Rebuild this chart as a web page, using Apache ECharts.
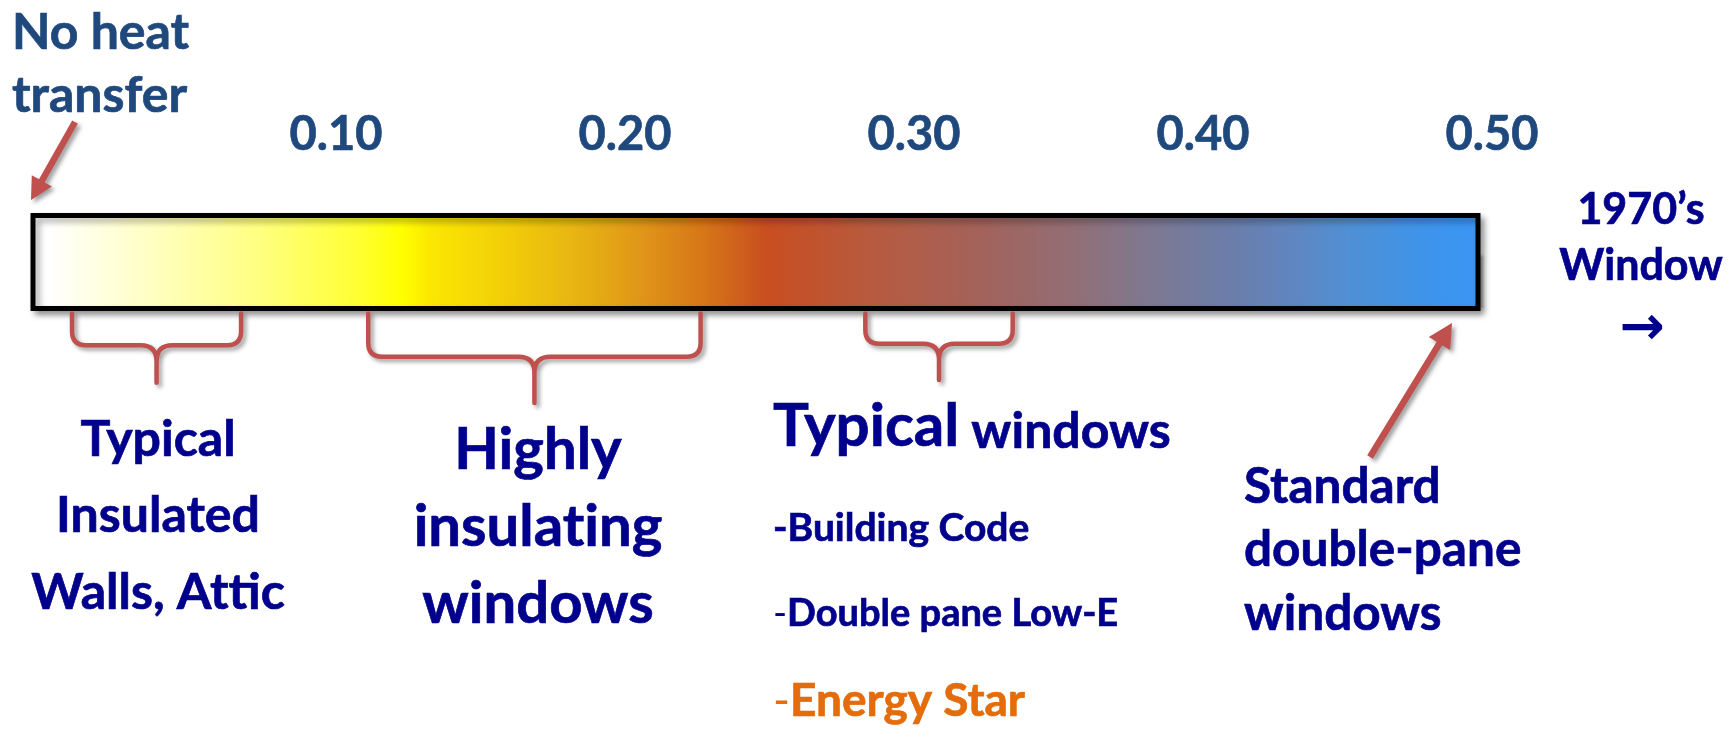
<!DOCTYPE html>
<html>
<head>
<meta charset="utf-8">
<title>U-factor scale</title>
<script src="https://cdn.jsdelivr.net/npm/echarts@6/dist/echarts.min.js"></script>
<style>
  html, body { margin: 0; padding: 0; background: #ffffff; }
  #chart { width: 1732px; height: 729px; }
</style>
</head>
<body>
<div id="chart"></div>
<script>
// U-factor scale, from no heat transfer up to a 1970's window
const scaleMin = 0;
const scaleMax = 0.5;
const tickValues = [0.1, 0.2, 0.3, 0.4, 0.5];
const tickLabels = ['0.10', '0.20', '0.30', '0.40', '0.50'];

// U-factor ranges marked with braces under the scale
const rangeNames = ['Typical Insulated Walls, Attic', 'Highly insulating windows', 'Typical windows'];
const rangeStart = [0.0135, 0.116, 0.288];
const rangeEnd = [0.072, 0.231, 0.339];

const FONT = 'Lato, "Open Sans", "DejaVu Sans", sans-serif';
const NAVY = '#00008C';
const STEEL = '#1F497D';
const RED = '#C0504D';
const ORANGE = '#E46C0A';
const SHADOW = { shadowColor: 'rgba(0,0,0,0.38)', shadowBlur: 4, shadowOffsetX: 3, shadowOffsetY: 3 };
// zero-width non-joiner keeps "t" and "i" as separate glyphs
const ZWNJ = '\u200C';

// colour ramp of the scale bar (white -> yellow -> orange-red -> blue)
const rampStops = [
  [0.000, '#FFFFFF'], [0.012, '#FFFFFF'], [0.067, '#FFFFD0'], [0.159, '#FFFF80'],
  [0.228, '#FFFF30'], [0.256, '#FFFF00'], [0.275, '#FBE802'], [0.330, '#F2CC08'],
  [0.370, '#E8B812'], [0.415, '#E19A18'], [0.462, '#D77818'], [0.508, '#C84E20'],
  [0.577, '#B85A3E'], [0.655, '#A3625A'], [0.725, '#907078'], [0.771, '#7E7890'],
  [0.817, '#6E7CA4'], [0.863, '#6284BC'], [0.909, '#5090D4'], [0.955, '#4094E8'],
  [1.000, '#3A96F5']
];

const chart = echarts.init(document.getElementById('chart'), null, { renderer: 'canvas' });

function barItem(params, api) {
  const p0 = api.coord([api.value(0), 1]);
  const p1 = api.coord([api.value(1), 0]);
  return {
    type: 'rect',
    shape: { x: p0[0], y: p0[1], width: p1[0] - p0[0], height: p1[1] - p0[1] },
    style: {
      fill: new echarts.graphic.LinearGradient(0, 0, 1, 0,
        rampStops.map(s => ({ offset: s[0], color: s[1] }))),
      stroke: '#000000',
      lineWidth: 5,
      shadowColor: 'rgba(0,0,0,0.35)', shadowBlur: 6, shadowOffsetX: 4, shadowOffsetY: 4
    }
  };
}

function braceItem(params, api) {
  const x1 = api.coord([api.value(0), 0])[0];
  const x2 = api.coord([api.value(1), 0])[0];
  const yBar = api.coord([0, 0])[1];
  const w = x2 - x1;
  const cx = (x1 + x2) / 2;
  const y0 = yBar + 5;
  const yh = yBar + 25 + 0.07 * w;
  const tip = yh + 28 + 0.055 * w;
  const r = 14, d = 16;
  const path =
    'M' + x1 + ' ' + y0 + ' L' + x1 + ' ' + (yh - r) +
    ' Q' + x1 + ' ' + yh + ' ' + (x1 + r) + ' ' + yh +
    ' L' + (cx - d) + ' ' + yh +
    ' Q' + cx + ' ' + yh + ' ' + cx + ' ' + (yh + d) +
    ' L' + cx + ' ' + tip +
    ' M' + x2 + ' ' + y0 + ' L' + x2 + ' ' + (yh - r) +
    ' Q' + x2 + ' ' + yh + ' ' + (x2 - r) + ' ' + yh +
    ' L' + (cx + d) + ' ' + yh +
    ' Q' + cx + ' ' + yh + ' ' + cx + ' ' + (yh + d);
  return {
    type: 'path',
    shape: { pathData: path },
    style: Object.assign({ fill: 'none', stroke: RED, lineWidth: 4.5, lineCap: 'round', lineJoin: 'round' }, SHADOW)
  };
}

// arrow as a filled polygon from tail to tip
function arrow(tail, tip, shaftW, headL, headW) {
  const dx = tip[0] - tail[0], dy = tip[1] - tail[1];
  const len = Math.sqrt(dx * dx + dy * dy);
  const ux = dx / len, uy = dy / len;
  const nx = -uy, ny = ux;
  const bx = tip[0] - ux * headL, by = tip[1] - uy * headL;
  const pts = [
    [tail[0] + nx * shaftW / 2, tail[1] + ny * shaftW / 2],
    [bx + nx * shaftW / 2, by + ny * shaftW / 2],
    [bx + nx * headW / 2, by + ny * headW / 2],
    tip,
    [bx - nx * headW / 2, by - ny * headW / 2],
    [bx - nx * shaftW / 2, by - ny * shaftW / 2],
    [tail[0] - nx * shaftW / 2, tail[1] - ny * shaftW / 2]
  ];
  return { type: 'polygon', shape: { points: pts }, style: Object.assign({ fill: RED }, SHADOW), z: 10 };
}

// text block placed by the baseline of its first line
function textBlock(text, x, baseline, fontSize, lineHeight, align, color, extra) {
  const top = baseline - lineHeight / 2 - 0.387 * fontSize;
  return {
    type: 'text',
    z: 20,
    style: Object.assign({
      text: text,
      x: x,
      y: top,
      fontFamily: FONT,
      fontSize: fontSize,
      fontWeight: 'bold',
      lineHeight: lineHeight,
      fill: color,
      stroke: color,
      lineWidth: 0.7,
      align: align,
      textAlign: align,
      verticalAlign: 'top',
      textVerticalAlign: 'top'
    }, extra || {})
  };
}

// one styled run inside a mixed-size line
function richPart(size, lh, color, weight) {
  const part = {
    fontFamily: FONT, fontWeight: weight, fontSize: size, lineHeight: lh,
    fill: color, verticalAlign: 'bottom'
  };
  if (weight === 'bold') {
    part.stroke = color;
    part.lineWidth = 0.7;
  }
  return part;
}

function richBlock(text, x, baseline, fontSize, lineHeight, color, rich) {
  return textBlock(text, x, baseline, fontSize, lineHeight, 'left', color,
    { rich: rich, stroke: null, lineWidth: 0 });
}

const option = {
  animation: false,
  backgroundColor: '#ffffff',
  grid: { left: 33, right: 254, top: 215.5, height: 93 },
  xAxis: {
    type: 'value',
    position: 'top',
    min: scaleMin,
    max: scaleMax,
    axisLine: { show: false },
    splitLine: { show: false },
    axisTick: {
      show: true,
      customValues: tickValues,
      length: 53,
      lineStyle: { color: RED, width: 4, shadowColor: 'rgba(0,0,0,0.3)', shadowBlur: 3, shadowOffsetX: 3 }
    },
    axisLabel: {
      customValues: tickValues,
      formatter: v => tickLabels[tickValues.findIndex(t => Math.abs(t - v) < 1e-9)] || '',
      margin: 57,
      padding: [0, 0, 0, 28],
      fontFamily: FONT,
      fontWeight: 'bold',
      fontSize: 47,
      color: STEEL,
      textBorderColor: STEEL,
      textBorderWidth: 0.7
    }
  },
  yAxis: { type: 'value', min: 0, max: 1, show: false },
  series: [
    {
      type: 'custom',
      name: 'U-factor scale',
      renderItem: barItem,
      data: [[scaleMin, scaleMax]],
      z: 2,
      silent: true
    },
    {
      type: 'custom',
      name: 'Ranges',
      renderItem: braceItem,
      data: rangeNames.map((n, i) => ({ name: n, value: [rangeStart[i], rangeEnd[i]] })),
      z: 3,
      silent: true
    }
  ],
  graphic: [
    arrow([75, 122], [31, 200], 6.5, 22, 23),
    arrow([1370, 457], [1452, 323], 6.5, 24, 25),
    textBlock('No heat\ntransfer', 12, 52, 50, 63, 'left', STEEL),
    textBlock('1970\u2019s\nWindow', 1641, 227, 43, 56, 'center', NAVY),
    {
      type: 'text', z: 20,
      style: { text: '\u2192', x: 1642, y: 330, fontFamily: '"DejaVu Sans", sans-serif', fontSize: 54,
        fontWeight: 'bold', fill: NAVY, align: 'center', textAlign: 'center',
        verticalAlign: 'middle', textVerticalAlign: 'middle' }
    },
    textBlock('Typical\nInsulated\nWalls, At' + ZWNJ + 'tic', 158, 459, 50, 76.5, 'center', NAVY),
    textBlock('Highly\ninsulat' + ZWNJ + 'ing\nwindows', 538, 473, 58, 77, 'center', NAVY),
    richBlock('{a|Typical} {b|windows}', 773, 445, 50, 62, NAVY,
      { a: richPart(60, 62, NAVY, 'bold'), b: richPart(50, 62, NAVY, 'bold') }),
    textBlock('-Building Code', 773, 544, 39, 46, 'left', NAVY),
    richBlock('{d|-}{t|Double pane Low-E}', 773, 624, 38, 46, NAVY,
      { d: richPart(38, 46, NAVY, 'normal'), t: richPart(38, 46, NAVY, 'bold') }),
    richBlock('{d|-}{t|Energy Star}', 773, 716, 46, 52, ORANGE,
      { d: richPart(46, 52, ORANGE, 'normal'), t: richPart(46, 52, ORANGE, 'bold') }),
    textBlock('Standard\ndouble-pane\nwindows', 1244, 506, 49.5, 63.5, 'left', NAVY)
  ]
};

chart.setOption(option);
</script>
</body>
</html>
